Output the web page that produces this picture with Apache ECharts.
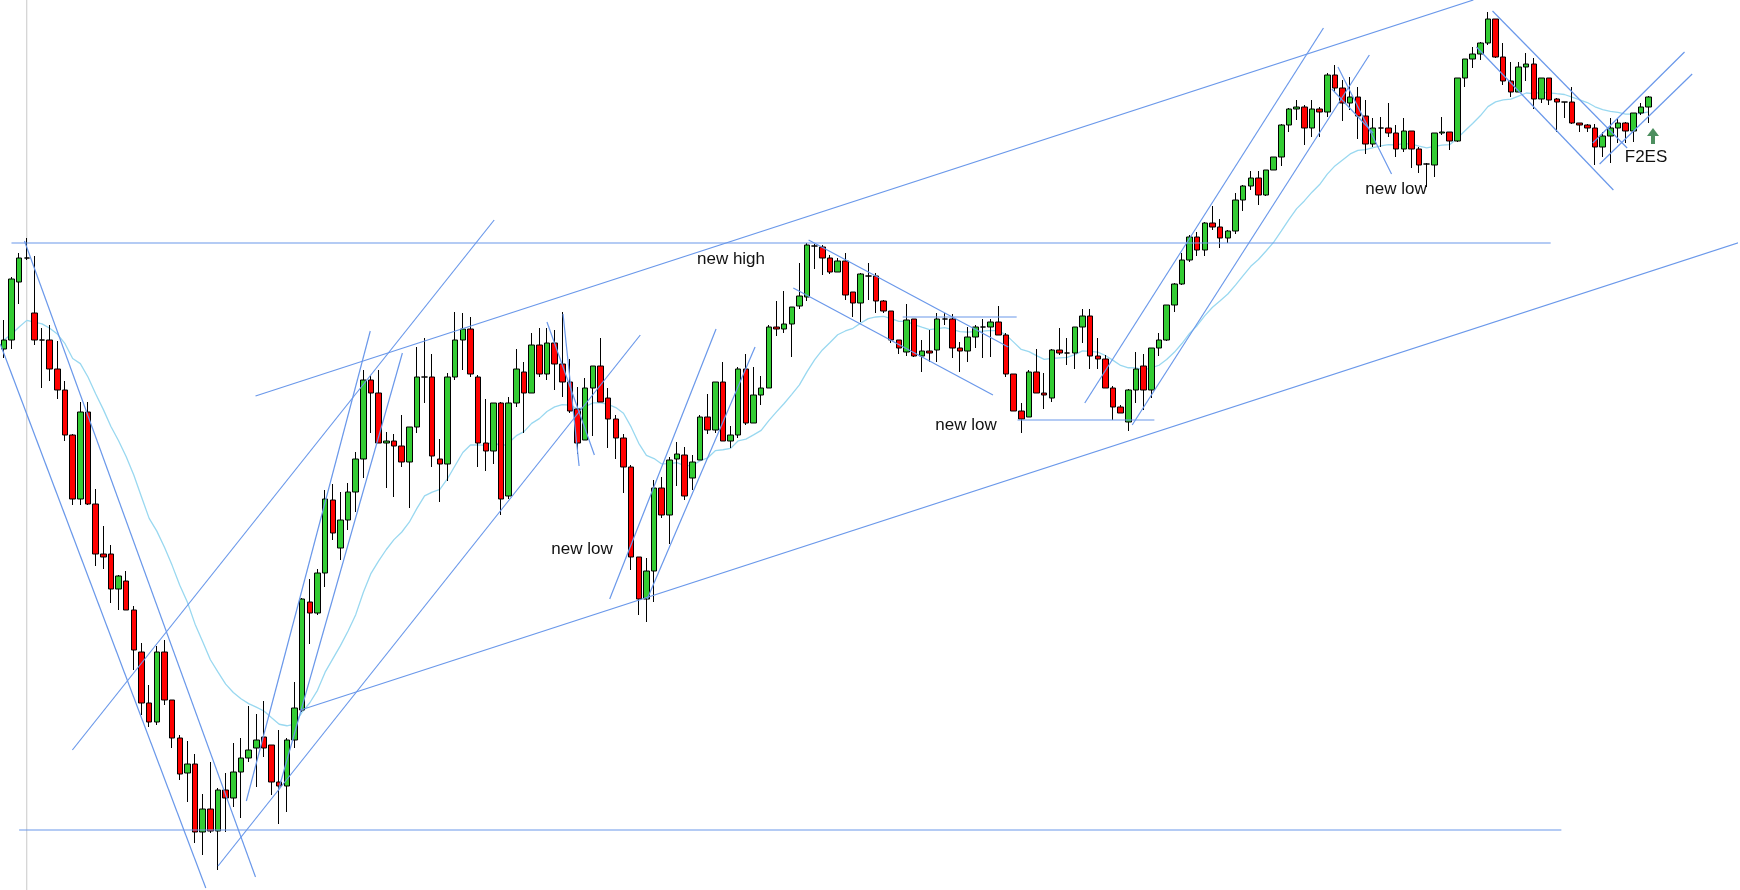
<!DOCTYPE html>
<html><head><meta charset="utf-8">
<script src="https://cdn.jsdelivr.net/npm/echarts@6/dist/echarts.min.js"></script>
<style>html,body{margin:0;padding:0;background:#fff}#c{width:1740px;height:890px}</style>
</head><body><div id="c"></div>
<script>
// level values (inverted scale): [open, close, top, bottom]
const candles = [
[349,340,320,358],[340,279,277,349],[282,258,253,304],[258,258,238,260],[313,340,256,345],
[340,340,328,388],[340,369,325,381],[369,390,341,399],[390,435,381,441],[435,499,434,505],
[499,412,402,505],[412,504,402,505],[504,554,489,566],[554,557,526,569],[554,589,545,603],
[589,576,575,610],[581,610,571,610],[610,650,606,670],[652,703,643,715],[703,722,685,727],
[722,652,646,725],[652,700,640,705],[700,738,700,748],[738,774,735,780],[773,764,741,802],
[764,832,754,843],[832,809,794,855],[809,831,762,833],[831,790,788,870],[790,798,773,832],
[798,772,743,807],[772,758,738,818],[758,750,706,762],[748,740,714,787],[737,748,701,757],
[745,782,745,795],[782,786,730,824],[786,740,738,812],[740,708,682,748],[710,599,598,712],
[602,613,579,644],[613,573,569,615],[573,499,490,587],[500,533,484,540],[548,520,492,560],
[520,492,483,530],[492,459,452,512],[459,380,370,478],[380,393,376,433],[393,443,370,443],
[443,441,432,488],[441,446,434,497],[446,462,415,467],[462,427,427,508],[427,377,347,433],
[377,377,338,403],[377,456,354,467],[459,464,439,502],[464,377,373,481],[377,340,312,380],
[340,329,313,370],[329,374,317,377],[377,443,375,467],[443,451,399,471],[451,403,403,464],
[403,499,402,515],[496,403,397,499],[403,369,349,407],[372,393,362,433],[393,345,333,393],
[345,374,328,377],[374,343,328,380],[343,364,330,390],[364,382,312,397],[382,411,359,413],
[409,443,387,454],[440,388,378,440],[388,366,366,436],[366,402,338,402],[398,419,388,448],
[419,438,415,459],[438,467,434,493],[467,557,465,570],[557,599,557,615],[599,571,558,622],
[571,488,480,602],[488,515,477,518],[515,460,457,544],[459,454,442,486],[455,496,447,500],
[478,462,455,490],[460,417,415,460],[417,430,394,434],[430,382,382,433],[382,441,362,441],
[441,435,426,448],[435,369,367,438],[369,423,354,425],[423,395,367,423],[395,388,376,405],
[388,327,325,388],[327,329,301,336],[329,324,291,333],[324,307,307,357],[306,296,263,309],
[297,245,243,301],[246,246,244,269],[247,258,245,275],[258,272,255,274],[272,261,258,272],
[261,295,253,300],[292,303,292,317],[303,274,273,322],[276,276,263,300],[276,301,273,313],
[301,311,300,313],[311,340,311,343],[340,348,340,354],[352,320,304,356],[319,356,319,357],
[356,351,340,372],[351,353,330,362],[350,319,313,362],[319,319,313,325],[319,348,314,358],
[348,351,342,372],[351,337,327,362],[337,327,325,348],[327,327,319,358],[327,322,319,357],
[322,335,306,335],[335,374,333,377],[374,411,374,411],[411,419,403,433],[417,372,370,417],
[372,393,349,393],[393,395,373,409],[398,350,349,402],[350,353,328,355],[353,353,338,365],
[353,327,327,369],[327,316,309,343],[316,356,309,369],[356,359,338,369],[359,388,355,388],
[388,407,386,420],[407,413,405,413],[422,390,389,431],[390,369,352,403],[366,390,354,410],
[390,348,348,398],[348,340,333,356],[340,305,305,341],[305,284,283,312],[284,260,253,285],
[260,237,235,262],[237,250,232,256],[250,223,222,256],[223,227,206,230],[227,238,219,248],
[238,231,230,243],[231,200,193,234],[200,186,185,211],[186,178,171,190],[178,195,171,205],
[195,170,170,196],[170,157,157,170],[157,125,124,166],[125,109,108,132],[109,107,100,120],
[107,128,105,145],[128,109,100,137],[109,112,107,137],[112,75,73,117],[75,88,65,92],
[88,103,80,121],[103,97,77,110],[97,116,87,139],[116,144,100,154],[144,128,118,147],
[128,128,117,147],[128,133,103,137],[133,149,125,157],[149,131,118,152],[131,149,131,168],
[149,165,147,173],[164,164,163,187],[165,133,133,177],[133,132,117,135],[132,141,132,150],
[141,78,78,142],[78,59,59,87],[59,54,47,68],[54,43,42,60],[43,19,12,45],
[19,57,19,58],[57,81,43,85],[81,92,62,97],[92,67,62,92],[67,64,53,81],
[64,99,58,109],[99,78,78,103],[78,100,78,105],[99,102,98,132],[102,102,102,118],
[102,123,87,124],[123,125,123,132],[125,128,124,132],[128,147,124,165],[147,136,132,157],
[136,128,118,163],[128,123,118,143],[123,131,122,143],[131,113,113,142],[113,107,103,115],
[107,97,96,123]
];
const categories = candles.map((_, i) => i);
// trend lines: [[index, level], [index, level]]
const trendLines = [
[[1.0,243],[202.2,243]],
[[2.0,830],[203.6,830]],
[[32.9,396],[192.1,0]],
[[38.8,710],[227,242]],
[[-0.46,344],[26.4,888]],
[[2.7,241],[32.9,877]],
[[8.96,750],[64.1,220]],
[[28.0,866],[83.2,335]],
[[31.7,801],[47.9,331]],
[[35.9,790],[52.1,353]],
[[73.1,314],[75.2,466]],
[[71.0,322],[77.2,455]],
[[79.2,599],[93.1,329]],
[[84.1,599],[98.2,347]],
[[105.2,240],[131.3,347]],
[[103.2,288],[129.3,395]],
[[117.5,317],[132.4,317]],
[[132.5,420],[150.4,420]],
[[141.3,403],[172.5,28]],
[[147.5,425],[178.5,55]],
[[174.4,67],[181.4,174]],
[[173.6,89],[179.0,133]],
[[194.6,11],[212.2,148]],
[[192.5,47],[210.4,190]],
[[207.7,143],[219.7,52]],
[[208.6,164],[220.7,74]]
];
const labels = [
  {text:'new high', x:731, y:259},
  {text:'new low', x:582, y:549},
  {text:'new low', x:966, y:425},
  {text:'new low', x:1396, y:189},
  {text:'F2ES', x:1646, y:157}
];
const closes = candles.map(c => c[1]);
const ema = []; const k = 2/(20+1);
closes.forEach((v,i)=>{ ema.push(i===0 ? v : +(v*k + ema[i-1]*(1-k)).toFixed(2)); });

const N = 227, step = 7.65;
const chart = echarts.init(document.getElementById('c'));
const series = [
  {type:'candlestick', data:candles, xAxisIndex:0, yAxisIndex:0, barWidth:6,
   itemStyle:{color:'#ff0000', color0:'#33cc33', borderColor:'#000', borderColor0:'#000', borderWidth:1}},
  {type:'line', data:ema, xAxisIndex:0, showSymbol:false, smooth:false,
   lineStyle:{color:'#99d8f0', width:1.3}, silent:true, z:1}
];
trendLines.forEach(l => series.push({type:'line', data:l, xAxisIndex:1, showSymbol:false,
   lineStyle:{color:'#6a98ea', width:1.2}, silent:true, z:3}));
series.push({type:'line', data:[[3,0],[3,890]], xAxisIndex:1, showSymbol:false,
   lineStyle:{color:'#c8c8c8', width:1}, z:0});
chart.setOption({
  animation:false,
  grid:{left:0, top:0, width:N*step, height:890},
  xAxis:[
    {type:'category', data:categories.concat(Array.from({length:N-candles.length},(_, j)=>candles.length+j)), boundaryGap:true, show:false},
    {type:'value', min:-0.5, max:N-0.5, show:false}
  ],
  yAxis:{type:'value', inverse:true, min:0, max:890, show:false},
  series,
  graphic: labels.map(l=>({type:'text', x:l.x, y:l.y, style:{text:l.text, font:'17px "Liberation Sans", Arial', fill:'#111', align:'center', verticalAlign:'middle'}}))
    .concat([{type:'polygon', shape:{points:[[1653,128],[1647,136],[1651,136],[1651,144],[1655,144],[1655,136],[1659,136]]}, style:{fill:'#4d8f5f'}}])
});
</script></body></html>
